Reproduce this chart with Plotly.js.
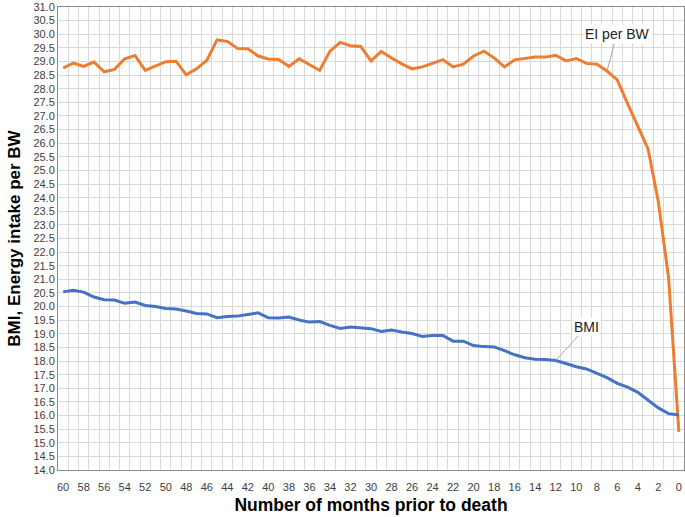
<!DOCTYPE html>
<html>
<head>
<meta charset="utf-8">
<script src="https://cdn.plot.ly/plotly-3.0.1.min.js"></script>
<style>
  html, body { margin: 0; padding: 0; background: #fff; }
  #plot { width: 685px; height: 517px; }
</style>
</head>
<body>
<div id="plot"></div>
<script>
// months before death, left to right
const months = [60, 59, 58, 57, 56, 55, 54, 53, 52, 51, 50, 49, 48, 47, 46, 45, 44, 43, 42, 41,
                40, 39, 38, 37, 36, 35, 34, 33, 32, 31, 30, 29, 28, 27, 26, 25, 24, 23, 22, 21,
                20, 19, 18, 17, 16, 15, 14, 13, 12, 11, 10, 9, 8, 7, 6, 5, 4, 3, 2, 1, 0];

const eiPerBw = [28.76, 28.94, 28.82, 28.98, 28.62, 28.71, 29.10, 29.22, 28.67, 28.83,
                 28.99, 29.01, 28.51, 28.73, 29.04, 29.79, 29.74, 29.48, 29.47, 29.20,
                 29.09, 29.07, 28.82, 29.10, 28.89, 28.67, 29.38, 29.70, 29.58, 29.55,
                 29.02, 29.37, 29.13, 28.91, 28.73, 28.80, 28.93, 29.07, 28.80, 28.90,
                 29.20, 29.38, 29.13, 28.80, 29.06, 29.11, 29.16, 29.16, 29.23, 29.02,
                 29.11, 28.93, 28.90, 28.65, 28.32, 27.45, 26.60, 25.79, 23.85, 21.05, 15.40];

const bmi = [20.54, 20.60, 20.53, 20.35, 20.25, 20.24, 20.12, 20.17, 20.04, 20.00,
             19.93, 19.91, 19.84, 19.75, 19.73, 19.59, 19.64, 19.65, 19.71, 19.77,
             19.59, 19.58, 19.62, 19.51, 19.43, 19.45, 19.31, 19.20, 19.25, 19.23,
             19.19, 19.09, 19.14, 19.07, 19.01, 18.90, 18.94, 18.94, 18.73, 18.73,
             18.57, 18.53, 18.52, 18.38, 18.23, 18.12, 18.07, 18.06, 18.02, 17.91,
             17.79, 17.71, 17.56, 17.39, 17.18, 17.04, 16.85, 16.55, 16.28, 16.07, 16.02];

const font = 'Liberation Sans, Arial, sans-serif';

const traceEI = {
    x: months,
    y: eiPerBw,
    mode: 'lines',
    name: 'EI per BW',
    line: {color: '#ED7D31', width: 3}
};

const traceBMI = {
    x: months,
    y: bmi,
    mode: 'lines',
    name: 'BMI',
    line: {color: '#4472C4', width: 3}
};

const layout = {
    width: 685,
    height: 517,
    margin: {l: 58, r: 1, t: 7, b: 47},
    paper_bgcolor: '#fff',
    plot_bgcolor: '#fff',
    showlegend: false,
    font: {family: font, color: '#404040'},
    xaxis: {
        range: [60.5, -0.5],
        tickmode: 'linear',
        tick0: 0,
        dtick: 2,
        showgrid: false,
        zeroline: false,
        showline: true,
        mirror: true,
        linecolor: '#8c8c8c',
        linewidth: 1,
        ticks: '',
        ticklabelstandoff: 7,
        tickfont: {size: 11, color: '#404040'},
        minor: {tickmode: 'linear', tick0: 0.5, dtick: 1, showgrid: true,
                gridcolor: '#d9d9d9', gridwidth: 1, ticks: ''},
        title: {text: 'Number of months prior to death', standoff: 6,
                font: {size: 17.5, color: '#000', family: font, weight: 'bold'}}
    },
    yaxis: {
        range: [14, 31],
        tickmode: 'linear',
        tick0: 14,
        dtick: 0.5,
        tickformat: '.1f',
        showgrid: true,
        gridcolor: '#d9d9d9',
        gridwidth: 1,
        zeroline: false,
        showline: true,
        mirror: true,
        linecolor: '#8c8c8c',
        linewidth: 1,
        ticks: '',
        tickfont: {size: 11, color: '#404040'},
        title: {text: 'BMI, Energy intake per BW', standoff: 8,
                font: {size: 17, color: '#000', family: font, weight: 'bold'}}
    },
    annotations: [
        {x: 7, y: 28.65, xref: 'x', yref: 'y', text: 'EI per BW',
         showarrow: true, arrowhead: 0, arrowwidth: 1, arrowcolor: '#a6a6a6',
         ax: 10, ay: -37, bgcolor: '#fff',
         font: {size: 14, color: '#222', family: font}},
        {x: 12, y: 18.02, xref: 'x', yref: 'y', text: 'BMI',
         showarrow: true, arrowhead: 0, arrowwidth: 1, arrowcolor: '#a6a6a6',
         ax: 31, ay: -34, bgcolor: '#fff',
         font: {size: 14, color: '#222', family: font}}
    ]
};

Plotly.newPlot('plot', [traceEI, traceBMI], layout, {displayModeBar: false, staticPlot: true});
</script>
</body>
</html>
